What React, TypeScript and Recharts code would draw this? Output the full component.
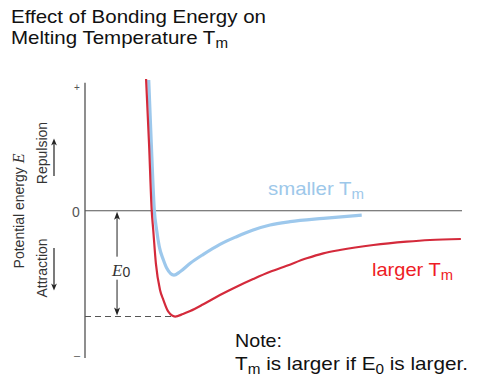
import React from "react";
import { LineChart, Line, XAxis, YAxis, ReferenceLine } from "recharts";

// interatomic separation r (arbitrary units) and potential energy E (arbitrary units)
const largerR = [1.62, 1.7, 1.77, 1.81, 1.88, 1.99, 2.08, 2.21, 2.39, 2.6, 2.79, 3.14, 3.58, 4.02, 4.46, 4.91, 5.35, 5.88, 6.32, 6.76, 7.65, 8.53, 9.15, 9.97];
const largerE = [1.03, 0.514, 0, -0.15, -0.41, -0.619, -0.697, -0.788, -0.826, -0.806, -0.783, -0.73, -0.658, -0.593, -0.533, -0.476, -0.429, -0.371, -0.332, -0.306, -0.267, -0.241, -0.228, -0.22];
const smallerR = [1.69, 1.76, 1.84, 1.9, 1.97, 2.08, 2.17, 2.36, 2.52, 2.79, 3.14, 3.58, 4.02, 4.46, 4.91, 5.44, 6.32, 7.34];
const smallerE = [1.022, 0.514, 0, -0.15, -0.28, -0.384, -0.449, -0.502, -0.476, -0.41, -0.34, -0.262, -0.202, -0.15, -0.111, -0.085, -0.059, -0.033];

const E0 = -0.826;
const rAtE0 = 2.39;
const xDomain = [0, 10];
const yDomain = [-1.15, 1.03];
const yAxisTop = 1.0;
const e0ArrowR = 0.85;

const largerData = largerR.map((r, i) => ({ r, e: largerE[i] }));
const smallerData = smallerR.map((r, i) => ({ r, e: smallerE[i] }));

const SANS = '"Liberation Sans", Arial, Helvetica, sans-serif';
const SERIF = '"Liberation Serif", "Times New Roman", serif';

const E0Arrow = (props: any) => {
  const { x1, y1, y2 } = props;
  const x = x1;
  const top = Math.min(y1, y2);
  const bot = Math.max(y1, y2);
  const mid = (top + bot) / 2 + 7;
  const gapTop = mid - 14;
  const gapBot = mid + 9;
  return (
    <g>
      <line x1={x} y1={top + 6} x2={x} y2={gapTop} stroke="#222" strokeWidth={1} />
      <line x1={x} y1={gapBot} x2={x} y2={bot - 6} stroke="#222" strokeWidth={1} />
      <path d={`M${x},${top + 1} L${x - 3},${top + 9} L${x},${top + 7} L${x + 3},${top + 9} Z`} fill="#222" />
      <path d={`M${x},${bot - 1} L${x - 3},${bot - 9} L${x},${bot - 7} L${x + 3},${bot - 9} Z`} fill="#222" />
      <text x={x - 5} y={mid + 5} fontFamily={SERIF} fontStyle="italic" fontSize={17} fill="#333">
        E
        <tspan fontFamily={SANS} fontStyle="normal" fontSize={14} dy={1}>0</tspan>
      </text>
    </g>
  );
};

export default function App() {
  return (
    <div style={{ position: "absolute", left: 0, top: 0, width: 481, height: 387, background: "#fff" }}>
      <LineChart
        width={481}
        height={387}
        margin={{ top: 79, right: 19, bottom: 29, left: 85 }}
      >
        <XAxis type="number" dataKey="r" domain={xDomain} hide allowDataOverflow />
        <YAxis type="number" dataKey="e" domain={yDomain} hide allowDataOverflow />
        <ReferenceLine
          segment={[{ x: 0, y: yDomain[0] }, { x: 0, y: yAxisTop }]}
          stroke="#444"
          strokeWidth={1.2}
          ifOverflow="visible"
        />
        <ReferenceLine y={0} stroke="#555" strokeWidth={1.1} ifOverflow="visible" />
        <ReferenceLine
          segment={[{ x: 0, y: E0 }, { x: rAtE0 - 0.08, y: E0 }]}
          stroke="#555"
          strokeWidth={1.1}
          strokeDasharray="6 4"
          ifOverflow="visible"
        />
        <ReferenceLine
          segment={[{ x: e0ArrowR, y: 0 }, { x: e0ArrowR, y: E0 }]}
          ifOverflow="visible"
          shape={E0Arrow}
        />
        <Line
          data={smallerData}
          dataKey="e"
          type="monotone"
          stroke="#9DC8EC"
          strokeWidth={3.2}
          dot={false}
          isAnimationActive={false}
        />
        <Line
          data={largerData}
          dataKey="e"
          type="monotone"
          stroke="#D42A3B"
          strokeWidth={2.2}
          dot={false}
          isAnimationActive={false}
        />
      </LineChart>
      <svg
        width={481}
        height={387}
        style={{ position: "absolute", left: 0, top: 0, pointerEvents: "none" }}
      >
        <defs>
          <marker id="ah" viewBox="0 0 10 10" refX="5" refY="5" markerWidth="6" markerHeight="8" orient="auto">
            <path d="M0,1 L10,5 L0,9 L3,5 Z" fill="#222" />
          </marker>
        </defs>
        <text x={11} y={23} fontFamily={SANS} fontSize={19} fill="#111" textLength={255} lengthAdjust="spacingAndGlyphs">
          Effect of Bonding Energy on
        </text>
        <text x={11} y={44} fontFamily={SANS} fontSize={19} fill="#111" textLength={217} lengthAdjust="spacingAndGlyphs">
          Melting Temperature T<tspan fontSize={14} dy={4}>m</tspan>
        </text>

        <text x={77} y={91} textAnchor="middle" fontFamily={SANS} fontSize={10} fill="#555">+</text>
        <text x={76} y={217} textAnchor="middle" fontFamily={SANS} fontSize={14} fill="#555">0</text>
        <text x={77} y={359} textAnchor="middle" fontFamily={SANS} fontSize={11} fill="#555">–</text>

        <text transform="translate(24,211) rotate(-90)" textAnchor="middle" fontFamily={SANS} fontSize={14} fill="#333">
          Potential energy <tspan fontFamily={SERIF} fontStyle="italic" fontSize={16}>E</tspan>
        </text>
        <text transform="translate(47,153) rotate(-90)" textAnchor="middle" fontFamily={SANS} fontSize={14} fill="#333">Repulsion</text>
        <text transform="translate(47,268) rotate(-90)" textAnchor="middle" fontFamily={SANS} fontSize={14} fill="#333">Attraction</text>
        <line x1={54} y1={176} x2={54} y2={142} stroke="#222" strokeWidth={1.2} markerEnd="url(#ah)" />
        <line x1={54} y1={248} x2={54} y2={287} stroke="#222" strokeWidth={1.2} markerEnd="url(#ah)" />

        <text x={268} y={195} fontFamily={SANS} fontSize={19} fill="#9DC8EA" textLength={96} lengthAdjust="spacingAndGlyphs">
          smaller T<tspan fontSize={14} dy={4}>m</tspan>
        </text>
        <text x={372} y={276} fontFamily={SANS} fontSize={19} fill="#EE1C25" textLength={81} lengthAdjust="spacingAndGlyphs">
          larger T<tspan fontSize={14} dy={4}>m</tspan>
        </text>

        <text x={235} y={347} fontFamily={SANS} fontSize={19} fill="#111" textLength={47} lengthAdjust="spacingAndGlyphs">Note:</text>
        <text x={235} y={370} fontFamily={SANS} fontSize={19} fill="#111" textLength={233} lengthAdjust="spacingAndGlyphs">
          T<tspan fontSize={14} dy={4}>m</tspan>
          <tspan dy={-4}> is larger if E</tspan>
          <tspan fontSize={14} dy={4}>0</tspan>
          <tspan dy={-4}> is larger.</tspan>
        </text>
      </svg>
    </div>
  );
}
